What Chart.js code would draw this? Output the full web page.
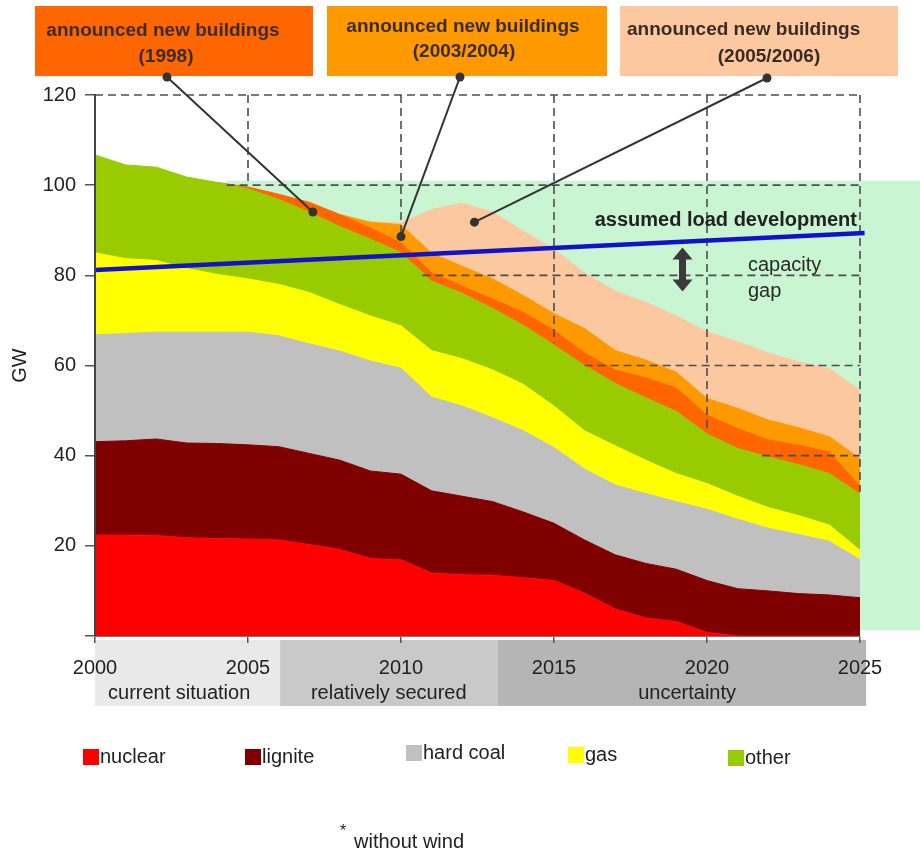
<!DOCTYPE html>
<html>
<head>
<meta charset="utf-8">
<title>Generating capacity outlook 2000–2025</title>
<style>
  html, body { margin: 0; padding: 0; background: #ffffff; }
  #wrap { width: 920px; height: 853px; position: relative; }
  canvas { display: block; }
</style>
<script src="https://cdn.jsdelivr.net/npm/chart.js@4.4.1/dist/chart.umd.min.js"></script>
</head>
<body>
<div id="wrap"><canvas id="chart" width="920" height="853"></canvas></div>
<script>
// ---- data (GW per layer, stacked bottom to top) ----
const years = [2000, 2001, 2002, 2003, 2004, 2005, 2006, 2007, 2008, 2009, 2010, 2011, 2012,
               2013, 2014, 2015, 2016, 2017, 2018, 2019, 2020, 2021, 2022, 2023, 2024, 2025];

const nuclear  = [22.4, 22.4, 22.3, 21.8, 21.6, 21.5, 21.3, 20.3, 19.2, 17.2, 16.9, 14.0, 13.6,
                  13.5, 12.9, 12.3, 9.5, 6.0, 4.0, 3.2, 0.8, 0, 0, 0, 0, 0];
const lignite  = [20.7, 20.9, 21.4, 21.0, 21.1, 20.9, 20.7, 20.2, 19.8, 19.4, 19.0, 18.2, 17.4,
                  16.3, 14.6, 12.7, 11.8, 12.0, 12.1, 11.6, 11.5, 10.5, 10.0, 9.4, 9.1, 8.5];
const hardCoal = [23.7, 23.8, 23.7, 24.6, 24.7, 25.0, 24.6, 24.3, 24.2, 24.4, 23.5, 20.8, 20.0,
                  18.6, 18.0, 16.8, 15.7, 15.5, 15.5, 15.0, 15.8, 15.4, 13.9, 13.1, 11.9, 8.4];
const gas      = [18.2, 16.6, 15.9, 14.1, 12.8, 11.8, 11.4, 11.4, 10.3, 10.0, 9.4, 10.3, 10.5,
                  10.6, 10.3, 9.2, 8.5, 8.7, 7.4, 6.2, 5.7, 5.1, 4.6, 4.2, 3.6, 2.1];
const other    = [21.7, 20.8, 20.7, 20.3, 20.4, 20.0, 18.8, 17.8, 17.3, 17.0, 16.2, 15.4, 14.5,
                  13.6, 13.1, 13.5, 14.5, 13.8, 13.8, 13.8, 11.0, 10.6, 11.2, 11.3, 11.4, 12.5];
// announced plants: null before the first year they add capacity
const new1998  = [null, null, null, null, 0, 0.4, 1.2, 2.2, 2.7, 2.5, 2.2, 1.9, 1.6,
                  2.1, 2.9, 3.3, 2.8, 3.0, 4.5, 5.2, 4.2, 4.4, 3.8, 4.3, 4.8, 1.7];
const new2003  = [null, null, null, null, null, null, null, null, 0, 1.3, 4.0, 4.3, 4.4,
                  4.5, 3.7, 3.7, 5.4, 4.3, 3.9, 3.5, 3.7, 4.5, 4.4, 3.9, 3.4, 6.1];
const new2005  = [null, null, null, null, null, null, null, null, null, 0, 0.4, 9.7, 14.0,
                  14.8, 14.3, 14.3, 12.3, 13.2, 12.8, 12.5, 14.8, 14.8, 14.9, 14.6, 15.1, 15.2];

// assumed load development (GW)
const loadYears = [2000, 2025.15];
const loadGW    = [81.2, 89.4];

// axis ticks and time phases
const xTicks = [2000, 2005, 2010, 2015, 2020, 2025];
const yTicks = [0, 20, 40, 60, 80, 100, 120];
const phaseNames  = ['current situation', 'relatively secured', 'uncertainty'];
const phaseBounds = [2000, 2006.05, 2013.17, 2025.2];

const legendNames = ['nuclear', 'lignite', 'hard coal', 'gas', 'other'];
const announcedLabels = [['announced new buildings', '(1998)'],
                         ['announced new buildings', '(2003/2004)'],
                         ['announced new buildings', '(2005/2006)']];

// ---- styling ----
const FONT = '"Liberation Sans", Arial, Helvetica, sans-serif';
const TEXT = '#222222';
const layerColors = ['#ff0000', '#800000', '#c0c0c0', '#ffff00', '#99cc00', '#ff6600', '#ff9900', '#fcc8a0'];
const phaseColors = ['#e9e9e9', '#c9c9c9', '#b5b5b5'];
const gapZoneColor = '#c9f5d3';

function points(vals) { return years.map((yr, i) => ({ x: yr, y: vals[i] })); }

const layers = [nuclear, lignite, hardCoal, gas, other, new1998, new2003, new2005];
const layerLabels = legendNames.concat(announcedLabels.map(l => l.join(' ')));

const datasets = layers.map((vals, i) => ({
  label: layerLabels[i],
  data: points(vals),
  backgroundColor: layerColors[i],
  borderColor: layerColors[i],
  borderWidth: 1,
  fill: i === 0 ? 'origin' : '-1',
  pointRadius: 0,
  tension: 0
}));

datasets.push({
  label: 'assumed load development',
  stack: 'load',
  data: loadYears.map((yr, i) => ({ x: yr, y: loadGW[i] })),
  borderColor: '#1212c8',
  borderWidth: 4.5,
  fill: false,
  pointRadius: 0,
  order: -1,
  clip: false
});
const LOAD_INDEX = datasets.length - 1;

function text(ctx, str, x, y, size, opts = {}) {
  ctx.font = (opts.weight || 'normal') + ' ' + size + 'px ' + FONT;
  ctx.fillStyle = opts.color || TEXT;
  ctx.textAlign = opts.align || 'left';
  ctx.textBaseline = 'middle';
  ctx.fillText(str, x, y);
}

const decor = {
  id: 'decor',
  beforeDraw(chart) {
    const { ctx, scales: { x, y } } = chart;
    ctx.save();
    // zone where capacity falls short of the load
    const gx = x.getPixelForValue(2004.3);
    const gt = y.getPixelForValue(101);
    const gb = y.getPixelForValue(1.3);
    ctx.fillStyle = gapZoneColor;
    ctx.fillRect(gx, gt, chart.width - gx, gb - gt);
    // phase band under the time axis
    const bandTop = y.bottom + 4;
    for (let i = 0; i < phaseNames.length; i++) {
      const l = x.getPixelForValue(phaseBounds[i]);
      const r = x.getPixelForValue(phaseBounds[i + 1]);
      ctx.fillStyle = phaseColors[i];
      ctx.fillRect(l, bandTop, r - l, 66);
    }
    ctx.restore();
  },
  beforeDatasetDraw(chart, args) {
    if (args.index !== LOAD_INDEX) return;
    const { ctx, scales: { x, y } } = chart;
    // dashed staircase frames
    const segs = [
      [2000, 120, 2025, 120], [2004.3, 100, 2025, 100], [2010.7, 80, 2025, 80],
      [2016, 60, 2025, 60], [2021.8, 40, 2025, 40],
      [2005, 120, 2005, 100], [2010, 120, 2010, 88.6], [2015, 120, 2015, 65],
      [2020, 120, 2020, 45], [2025, 120, 2025, 32]
    ];
    ctx.save();
    ctx.strokeStyle = '#4d4d4d';
    ctx.lineWidth = 1.6;
    ctx.setLineDash([8, 5]);
    segs.forEach(s => {
      ctx.beginPath();
      ctx.moveTo(x.getPixelForValue(s[0]), y.getPixelForValue(s[1]));
      ctx.lineTo(x.getPixelForValue(s[2]), y.getPixelForValue(s[3]));
      ctx.stroke();
    });
    ctx.restore();
  },
  afterDraw(chart) {
    const { ctx, scales: { x, y } } = chart;
    ctx.save();

    // announcement boxes
    const boxes = [
      { l: 35, r: 313, color: layerColors[5], c1: 163, c2: 166, m1: 31, m2: 57, a: 'center' },
      { l: 327, r: 607, color: layerColors[6], c1: 463, c2: 464, m1: 27, m2: 52, a: 'center' },
      { l: 620, r: 898, color: layerColors[7], c1: 627, c2: 769, m1: 30, m2: 57, a: 'left' }
    ];
    boxes.forEach((b, i) => {
      ctx.fillStyle = b.color;
      ctx.fillRect(b.l, 6, b.r - b.l, 70);
      text(ctx, announcedLabels[i][0], b.c1, b.m1, 19, { weight: 'bold', color: '#3a2c24', align: b.a });
      text(ctx, announcedLabels[i][1], b.c2, b.m2, 19, { weight: 'bold', color: '#3a2c24', align: 'center' });
    });

    // callout connectors
    const callouts = [
      { from: [167, 77], year: 2007.12, gw: 94.05 },
      { from: [460, 77], year: 2010.0, gw: 88.6 },
      { from: [767, 78], year: 2012.4, gw: 91.8 }
    ];
    ctx.strokeStyle = '#333333';
    ctx.fillStyle = '#333333';
    ctx.lineWidth = 2;
    callouts.forEach(c => {
      const px = x.getPixelForValue(c.year), py = y.getPixelForValue(c.gw);
      ctx.beginPath();
      ctx.moveTo(c.from[0], c.from[1]);
      ctx.lineTo(px, py);
      ctx.stroke();
      [[c.from[0], c.from[1]], [px, py]].forEach(p => {
        ctx.beginPath();
        ctx.arc(p[0], p[1], 4.5, 0, Math.PI * 2);
        ctx.fill();
      });
    });

    // load line caption
    text(ctx, 'assumed load development', 857, 220, 20, { weight: 'bold', align: 'right' });

    // capacity gap arrow
    const ax = x.getPixelForValue(2019.2);
    const at = y.getPixelForValue(86.2), ab = y.getPixelForValue(76.4);
    ctx.fillStyle = '#3a3a3a';
    ctx.fillRect(ax - 3.5, at + 10, 7, ab - at - 20);
    ctx.beginPath();
    ctx.moveTo(ax, at); ctx.lineTo(ax + 10, at + 12); ctx.lineTo(ax - 10, at + 12); ctx.closePath(); ctx.fill();
    ctx.beginPath();
    ctx.moveTo(ax, ab); ctx.lineTo(ax + 10, ab - 12); ctx.lineTo(ax - 10, ab - 12); ctx.closePath(); ctx.fill();
    text(ctx, 'capacity', 748, 265, 20, { color: '#2a2a2a' });
    text(ctx, 'gap', 748, 291, 20, { color: '#2a2a2a' });

    // phase captions
    const phaseCenters = [2002.75, 2009.6, 2019.35];
    phaseNames.forEach((n, i) => {
      text(ctx, n, x.getPixelForValue(phaseCenters[i]), y.bottom + 57, 20, { align: 'center' });
    });

    // legend
    const lx = [83, 245, 406, 568, 728];
    const ly = [757, 757, 753, 755, 758];
    legendNames.forEach((n, i) => {
      ctx.fillStyle = layerColors[i];
      ctx.fillRect(lx[i], ly[i] - 8, 16, 16);
      text(ctx, n, lx[i] + 17, ly[i], 20);
    });

    // footnote
    text(ctx, '*', 340, 832, 16);
    text(ctx, 'without wind', 354, 842, 20);

    ctx.restore();
  }
};

new Chart(document.getElementById('chart'), {
  type: 'line',
  data: { datasets },
  options: {
    responsive: false,
    animation: false,
    events: [],
    layout: { padding: { top: 95, right: 60, bottom: 0, left: 0 } },
    plugins: { legend: { display: false }, tooltip: { enabled: false } },
    scales: {
      x: {
        type: 'linear', min: 2000, max: 2025,
        afterBuildTicks: s => { s.ticks = xTicks.map(v => ({ value: v })); },
        ticks: { callback: v => String(v), font: { family: FONT, size: 20 }, color: TEXT, padding: 13, maxRotation: 0, autoSkip: false },
        grid: { drawOnChartArea: false, tickLength: 7, color: '#555555', lineWidth: 1.5 },
        border: { display: true, color: '#777777', width: 1, z: 1 },
        afterFit: s => { s.height = 853 - 636; }
      },
      y: {
        stacked: true, min: 0, max: 120,
        afterBuildTicks: s => { s.ticks = yTicks.map(v => ({ value: v })); },
        ticks: { callback: v => (v === 0 ? '' : String(v)), font: { family: FONT, size: 20 }, color: TEXT, padding: 9 },
        grid: { drawOnChartArea: false, tickLength: 10, color: '#555555', lineWidth: 1.5 },
        border: { display: true, color: '#444444', width: 2, z: 1 },
        title: { display: true, text: 'GW', font: { family: FONT, size: 20 }, color: TEXT, padding: { top: 8, bottom: 0 } },
        afterFit: s => { s.width = 95; }
      }
    }
  },
  plugins: [decor]
});
</script>
</body>
</html>
